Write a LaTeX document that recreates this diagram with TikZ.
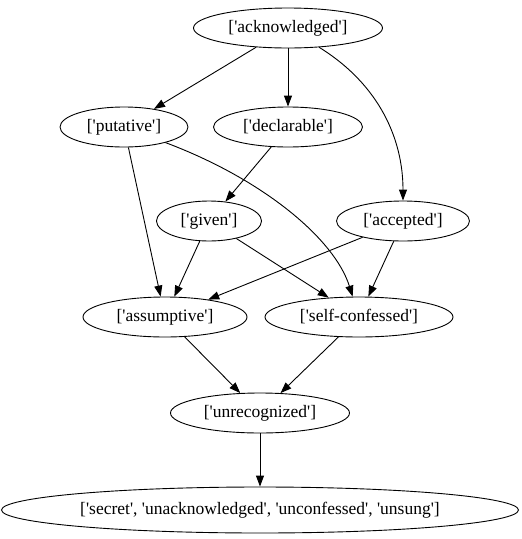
\documentclass[tikz,border=0pt]{standalone}
\usepackage{fontspec}
\setmainfont{Liberation Serif}
\usetikzlibrary{shapes.geometric,arrows.meta}

\newcommand{\sq}{\textquotesingle}

\tikzset{
  term/.style={draw, line width=0.9pt, ellipse, inner sep=0pt, minimum height=40pt, font=\fontsize{17.5}{19}\selectfont},
  edge/.style={-{Triangle[length=11pt,width=8pt]}, line width=0.9pt}
}

\begin{document}
\begin{tikzpicture}[x=1pt,y=-1pt]
\useasboundingbox (0,0) rectangle (522,539);
% nodes
\node[term, minimum width=189pt] (ack) at (288,28) {[\sq acknowledged\sq]};
\node[term, minimum width=128pt] (put) at (124,127) {[\sq putative\sq]};
\node[term, minimum width=149pt] (dec) at (288,127) {[\sq declarable\sq]};
\node[term, minimum width=105pt] (giv) at (209,221) {[\sq given\sq]};
\node[term, minimum width=133pt] (acc) at (403,221) {[\sq accepted\sq]};
\node[term, minimum width=164pt] (ass) at (165,317) {[\sq assumptive\sq]};
\node[term, minimum width=188pt] (sel) at (359,317) {[\sq self-confessed\sq]};
\node[term, minimum width=179pt] (unr) at (260,413) {[\sq unrecognized\sq]};
\node[term, minimum width=517pt, minimum height=46pt] (sec) at (260,510) {[\sq secret\sq, \sq unacknowledged\sq, \sq unconfessed\sq, \sq unsung\sq]};
% edges
\draw[edge] (ack) -- (put);
\draw[edge] (ack) -- (dec);
\draw[edge] (ack) .. controls (380,85) and (403,140) .. (acc);
\draw[edge] (put) -- (ass);
\draw[edge] (put) .. controls (265,180) and (335,240) .. (sel);
\draw[edge] (dec) -- (giv);
\draw[edge] (giv) -- (ass);
\draw[edge] (giv) -- (sel);
\draw[edge] (acc) -- (ass);
\draw[edge] (acc) -- (sel);
\draw[edge] (ass) -- (unr);
\draw[edge] (sel) -- (unr);
\draw[edge] (unr) -- (sec);
\end{tikzpicture}
\end{document}
